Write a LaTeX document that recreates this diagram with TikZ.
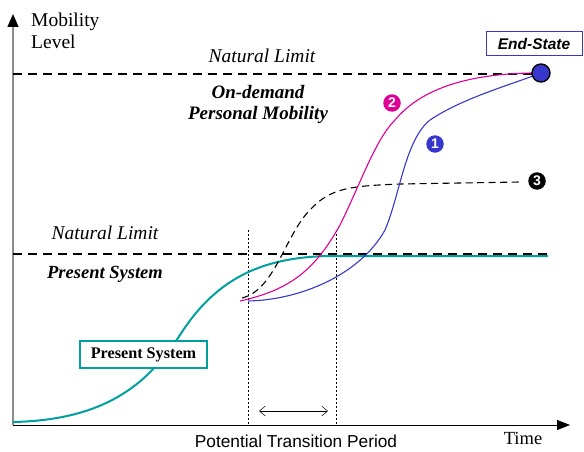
\documentclass[tikz,border=0pt]{standalone}
\usepackage{fontspec}
\setmainfont{Liberation Serif}
\setsansfont{Liberation Sans}
\usetikzlibrary{arrows.meta}
\definecolor{tealc}{RGB}{0,160,160}
\definecolor{pinkc}{RGB}{222,0,150}
\definecolor{bluec}{RGB}{55,55,205}
\definecolor{axisgray}{RGB}{140,140,140}
\tikzset{
  limitline/.style={black,line width=2.2pt,dash pattern=on 9pt off 6pt},
  guide/.style={black,line width=0.6pt,dash pattern=on 2pt off 2pt},
  curve/.style={line width=1.1pt},
  numdot/.style={circle,inner sep=0pt,minimum size=17.5pt,text=white,font=\sffamily\bfseries\fontsize{14}{14}\selectfont},
  lbl/.style={font=\fontsize{19.5}{22}\selectfont},
}
\begin{document}
\begin{tikzpicture}[x=1pt,y=-1pt]
\useasboundingbox (0,0) rectangle (584,452);
% axes
\coordinate (o) at (13,425);
\coordinate (ytop) at (13,14);
\coordinate (xend) at (570,425);
\draw[axisgray,line width=1.2pt,-{Triangle[black,length=13pt,width=11pt]}] (o) -- (ytop);
\draw[black,line width=0.8pt,-{Triangle[length=13pt,width=10pt]}] (o) -- (xend);
\node[lbl,anchor=west,align=left,inner sep=0pt] (ylab) at (31,31) {Mobility\\Level};
\node[font=\fontsize{18.5}{20}\selectfont] (xlab) at (523,438) {Time};
\node[font=\sffamily\fontsize{17.3}{19}\selectfont] (period) at (296,441) {Potential Transition Period};

% natural limits
\coordinate (up0) at (13,74);
\coordinate (up1) at (532,74);
\draw[limitline] (up0) -- (up1);
\coordinate (lo0) at (13,254);
\coordinate (lo1) at (548,254);
\draw[limitline] (lo0) -- (lo1);
\node[font=\itshape\fontsize{19.5}{22}\selectfont] (nl1) at (262,56) {Natural Limit};
\node[font=\itshape\fontsize{19.5}{22}\selectfont] (nl2) at (105,233) {Natural Limit};
\node[align=center,font=\bfseries\itshape\fontsize{19}{21}\selectfont] (odpm) at (258,104) {On-demand\\Personal Mobility};
\node[font=\bfseries\itshape\fontsize{18.5}{20}\selectfont] (ps) at (105,274) {Present System};

% transition period guides
\coordinate (g1t) at (248,230);
\coordinate (g1b) at (248,425);
\coordinate (g2t) at (336,230);
\coordinate (g2b) at (336,425);
\draw[guide] (g1t) -- (g1b);
\draw[guide] (g2t) -- (g2b);
\coordinate (pa) at (259,411);
\coordinate (pb) at (328,411);
\draw[black,line width=0.5pt,{Straight Barb[length=6pt,width=10pt]}-{Straight Barb[length=6pt,width=10pt]}] (pa) -- (pb);

% present system curve
\draw[tealc,line width=2pt] (13,422) .. controls (110,420) and (150,380) .. (180,335)
  .. controls (215,280) and (260,257) .. (330,256) -- (548,256);
\node[draw=tealc,line width=1.2pt,fill=white,minimum width=127pt,minimum height=27pt,inner sep=0pt,
  font=\bfseries\fontsize{16.2}{18}\selectfont] (psbox) at (143.5,354.5) {Present System};

% scenario 3 (dashed)
\draw[black,line width=1.1pt,dash pattern=on 7pt off 4.5pt] (242,298) .. controls (275,290) and (285,235) .. (310,210)
  .. controls (330,188) and (350,186) .. (400,184) -- (520,182);
% scenario 2
\draw[pinkc,curve] (240,301) .. controls (290,290) and (315,270) .. (340,225)
  .. controls (360,185) and (375,140) .. (395,120)
  .. controls (420,90) and (465,74) .. (532,73);
% scenario 1
\draw[bluec,curve] (248,301) .. controls (300,300) and (360,275) .. (385,230)
  .. controls (400,195) and (405,140) .. (430,120)
  .. controls (460,100) and (500,88) .. (533,76);

% end state
\node[circle,draw=black,line width=1.4pt,fill=bluec,minimum size=18pt,inner sep=0pt] (end) at (541,73) {};
\node[draw=bluec,line width=1pt,minimum width=96pt,minimum height=24pt,inner sep=0pt,
  font=\sffamily\bfseries\itshape\fontsize{15.5}{17}\selectfont] (esbox) at (534,44) {End-State};

% scenario markers
\node[numdot,fill=pinkc] (n2) at (392,103) {2};
\node[numdot,fill=bluec] (n1) at (435,144) {1};
\node[numdot,fill=black] (n3) at (537,181) {3};
\end{tikzpicture}
\end{document}
